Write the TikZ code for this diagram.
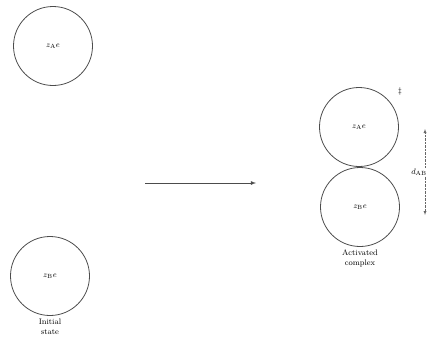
\documentclass[tikz,border=0pt]{standalone}
\usetikzlibrary{positioning}

\begin{document}
\begin{tikzpicture}[x=1pt, y=-1pt, font=\footnotesize,
		ion/.style={circle, draw=black!70, thick, minimum size=79pt, inner sep=0pt},
		caption/.style={align=center, font=\footnotesize, inner sep=1pt}]
		\useasboundingbox (0,0) rectangle (430,343);

		\node [ion] (A) at (53,46) {$z_{\mathrm{A}}e$};
		\node [ion] (B) at (50,276) {$z_{\mathrm{B}}e$};
		\node [caption, below=2pt of B] (init) {Initial\\state};

		\node [ion] (CA) at (359,127) {$z_{\mathrm{A}}e$};
		\node [ion] (CB) at (360,207) {$z_{\mathrm{B}}e$};
		\node [caption, below=2pt of CB] (act) {Activated\\complex};
		\node at (400,91) (dag) {$\ddagger$};

		\coordinate (s) at (145,183);
		\coordinate (t) at (256,183);
		\draw [-latex, thick, black!70] (s) -- (t);

		\coordinate (top) at (425,129);
		\coordinate (bot) at (425,215);
		\node [inner sep=1pt] (d) at (419,172) {$d_{\mathrm{AB}}$};
		\draw [-latex, black!60, densely dotted] (top |- d.north) -- (top);
		\draw [-latex, black!60, densely dotted] (bot |- d.south) -- (bot);
	\end{tikzpicture}
\end{document}
